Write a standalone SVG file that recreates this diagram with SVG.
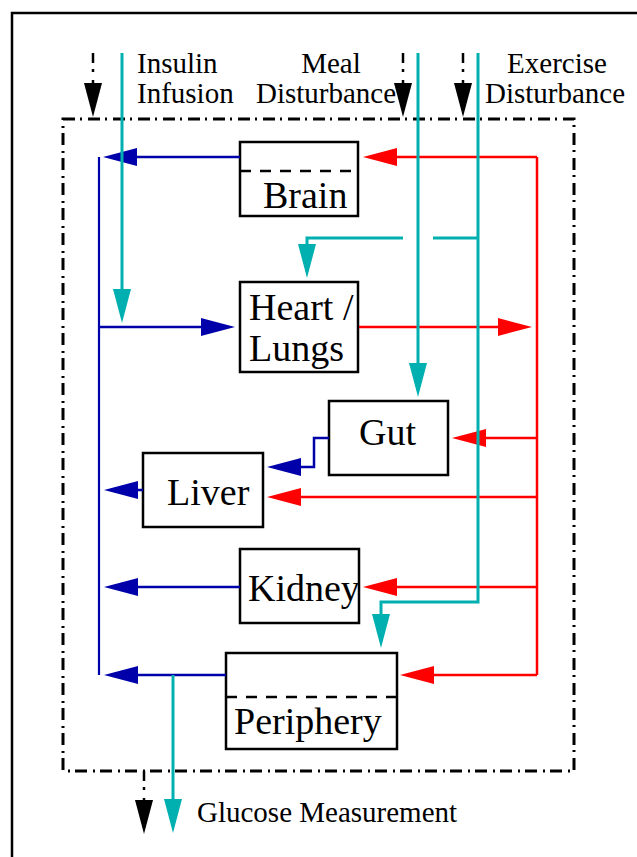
<svg xmlns="http://www.w3.org/2000/svg" width="637" height="857" viewBox="0 0 637 857">
<style>
.box{fill:#fff;stroke:#000;stroke-width:2.5}
.sep{stroke:#000;stroke-width:2.5;stroke-dasharray:11 9;fill:none}
.node{font-family:"Liberation Serif","Times New Roman",serif;font-size:38px;fill:#000}
.lbl{font-family:"Liberation Serif","Times New Roman",serif;font-size:29px;fill:#000}
.b{stroke:#0000AA;stroke-width:2.5;fill:none;marker-end:url(#mb)}
.bn{stroke:#0000AA;stroke-width:2.2;fill:none}
.r{stroke:#FF0000;stroke-width:2.5;fill:none;marker-end:url(#mr)}
.rn{stroke:#FF0000;stroke-width:2.5;fill:none}
.t{stroke:#00B0B0;stroke-width:3;fill:none;marker-end:url(#mt)}
.tn{stroke:#00B0B0;stroke-width:3;fill:none}
.k{stroke:#000;stroke-width:2.5;fill:none;stroke-dasharray:10 6 3 8;marker-end:url(#mk)}
</style>
<defs>
<marker id="mb" markerUnits="userSpaceOnUse" markerWidth="34" markerHeight="18" refX="0" refY="9" orient="auto"><path d="M0,0 L34,9 L0,18 z" fill="#0000AA"/></marker>
<marker id="mr" markerUnits="userSpaceOnUse" markerWidth="34" markerHeight="18" refX="0" refY="9" orient="auto"><path d="M0,0 L34,9 L0,18 z" fill="#FF0000"/></marker>
<marker id="mt" markerUnits="userSpaceOnUse" markerWidth="34" markerHeight="18" refX="0" refY="9" orient="auto"><path d="M0,0 L34,9 L0,18 z" fill="#00B0B0"/></marker>
<marker id="mk" markerUnits="userSpaceOnUse" markerWidth="34" markerHeight="18" refX="0" refY="9" orient="auto"><path d="M0,0 L34,9 L0,18 z" fill="#000"/></marker>
</defs>
<rect width="637" height="857" fill="#fff"/>
<path d="M12,857 V13 H637" stroke="#000" stroke-width="2.5" fill="none"/>
<rect id="system" x="63" y="119" width="511" height="652" fill="none" stroke="#000" stroke-width="3" stroke-dasharray="12 5 2 6"/>

<g id="labels">
<text class="lbl" x="137" y="73">Insulin</text>
<text class="lbl" x="137" y="103">Infusion</text>
<text class="lbl" x="331" y="73" text-anchor="middle">Meal</text>
<text class="lbl" x="326" y="103" text-anchor="middle">Disturbance</text>
<text class="lbl" x="557" y="73" text-anchor="middle">Exercise</text>
<text class="lbl" x="555" y="103" text-anchor="middle">Disturbance</text>
<text class="lbl" x="197" y="822">Glucose Measurement</text>
</g>

<g id="brain">
<rect class="box" x="240" y="142" width="118" height="74"/>
<line class="sep" x1="240" y1="171" x2="358" y2="171"/>
<text class="node" x="263" y="208">Brain</text>
</g>
<g id="heart-lungs">
<rect class="box" x="240" y="282" width="118" height="90"/>
<text class="node" x="249" y="320">Heart /</text>
<text class="node" x="249" y="361">Lungs</text>
</g>
<g id="gut">
<rect class="box" x="329" y="401" width="119" height="74"/>
<text class="node" x="359" y="445">Gut</text>
</g>
<g id="liver">
<rect class="box" x="143" y="453" width="120" height="74"/>
<text class="node" x="167" y="505">Liver</text>
</g>
<g id="kidney">
<rect class="box" x="240" y="549" width="119" height="74"/>
<text class="node" x="248" y="601">Kidney</text>
</g>
<g id="periphery">
<rect class="box" x="226" y="653" width="171" height="96"/>
<line class="sep" x1="226" y1="697" x2="397" y2="697"/>
<text class="node" x="234" y="734">Periphery</text>
</g>

<g id="connectors">
<!-- blue glucose outflows -->
<path class="bn" d="M99,157 V675"/>
<path class="b" d="M240,157 H137"/>
<path class="b" d="M99,327 H201"/>
<path class="b" d="M329,438 H314 V467 H301"/>
<path class="b" d="M143,490 H138"/>
<path class="b" d="M240,587 H138"/>
<path class="b" d="M226,675 H138"/>
<!-- red flows -->
<path class="rn" d="M537,157 V675"/>
<path class="r" d="M537,157 H397"/>
<path class="r" d="M359,327 H498"/>
<path class="r" d="M537,438 H486"/>
<path class="r" d="M537,497 H301"/>
<path class="r" d="M537,587 H397"/>
<path class="r" d="M537,675 H434"/>
<!-- black disturbance arrows -->
<path class="k" d="M93,53 V83"/>
<path class="k" d="M403,53 V83"/>
<path class="k" d="M463,53 V83"/>
<path class="k" d="M144,771 V800"/>
<!-- teal inputs -->
<path class="t" d="M122,53 V289"/>
<path class="t" d="M418,53 V363"/>
<path class="t" d="M478,53 V602 H381 V614"/>
<path class="tn" d="M478,238 H433"/>
<path class="t" d="M403,238 H307 V244"/>
<path class="t" d="M173,675 V799"/>
</g>
</svg>
